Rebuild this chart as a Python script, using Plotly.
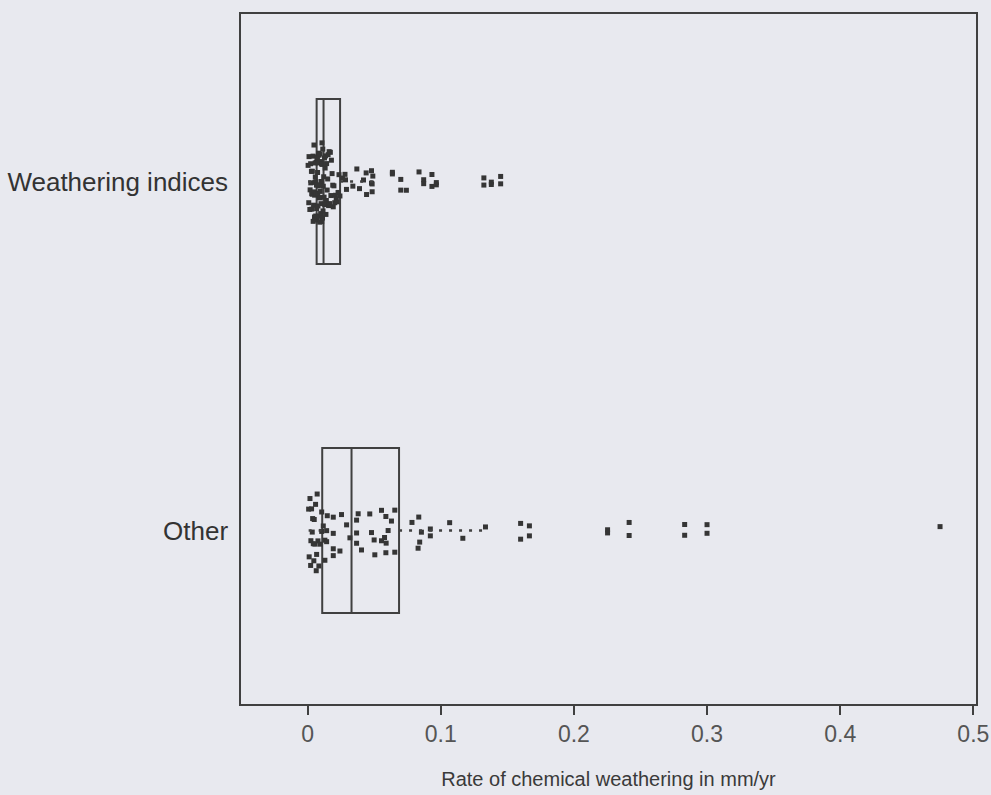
import plotly.graph_objects as go

# Categories (bottom to top)
categories = ["Other", "Weathering indices"]

# Individual rates of chemical weathering (mm/yr)
weathering_indices_rates = [
    0.0004, 0.0009, 0.0011, 0.0017, 0.0019, 0.0023, 0.0024, 0.0029, 0.0031, 0.0033,
    0.0036, 0.0037, 0.0041, 0.0042, 0.0045, 0.0048, 0.0049, 0.0052, 0.0053, 0.0055,
    0.0057, 0.0058, 0.0060, 0.0061, 0.0063, 0.0064, 0.0066, 0.0067, 0.0068,
    0.0069, 0.0071, 0.0072, 0.0074, 0.0075, 0.0077, 0.0078, 0.0079, 0.0081, 0.0083,
    0.0084, 0.0086, 0.0088, 0.0089, 0.0091, 0.0093, 0.0094, 0.0096, 0.0098, 0.0099,
    0.0101, 0.0103, 0.0105, 0.0106, 0.0108, 0.0110, 0.0112, 0.0114, 0.0116, 0.0118,
    0.0121, 0.0124, 0.0127, 0.0129, 0.0132, 0.0135, 0.0138, 0.0141, 0.0143, 0.0147,
    0.0151, 0.0154, 0.0158, 0.0162, 0.0166, 0.0171, 0.0175, 0.0179, 0.0184, 0.0189,
    0.0193, 0.0198, 0.0204, 0.0209, 0.0215, 0.0222, 0.0229, 0.0236, 0.0243,
    0.0262, 0.0281, 0.0285, 0.0292, 0.034, 0.037, 0.039, 0.042, 0.044, 0.0443,
    0.048, 0.048, 0.0485, 0.0485, 0.049, 0.0637, 0.0637, 0.070, 0.070, 0.0742,
    0.0837, 0.0872, 0.0872, 0.0934, 0.0934, 0.0967, 0.0967, 0.1324, 0.1324,
    0.138, 0.138, 0.145, 0.145,
]

other_rates = [
    0.0008, 0.0012, 0.0018, 0.0023, 0.0025, 0.003, 0.0035, 0.0038, 0.0043, 0.0047,
    0.005, 0.0055, 0.006, 0.0065, 0.0068, 0.0072, 0.0078, 0.0085, 0.0093,
    0.0106, 0.0106, 0.0118, 0.013, 0.013, 0.0143, 0.0143, 0.0148,
    0.0193, 0.0193, 0.0193, 0.0193, 0.0243, 0.0255, 0.0293,
    0.0318, 0.0368, 0.0368, 0.0368, 0.038, 0.0405,
    0.0467, 0.048, 0.050, 0.0505,
    0.0555, 0.0555, 0.0578, 0.0588, 0.0588, 0.059, 0.0605, 0.063, 0.0655, 0.0655,
    0.0784, 0.083, 0.0835, 0.0842, 0.0855, 0.0922, 0.0922,
    0.1067, 0.1166, 0.1336,
    0.160, 0.160, 0.1666, 0.1666, 0.2253, 0.2253, 0.2415, 0.2415,
    0.2832, 0.2832, 0.300, 0.300, 0.475,
]

# Box summary statistics per category (same order as categories)
q1_values = [0.011, 0.0068]
median_values = [0.033, 0.012]
q3_values = [0.0687, 0.0244]
lower_fence_values = [0.0008, 0.0004]
upper_fence_values = [0.1336, 0.049]

# Axis ticks
x_tick_values = [0, 0.1, 0.2, 0.3, 0.4, 0.5]
x_tick_labels = ["0", "0.1", "0.2", "0.3", "0.4", "0.5"]

page_bg = "#e8e9ef"
ink = "#404040"
box_width = 0.473

fig = go.Figure()

# Boxes (quartiles and median); whiskers are drawn separately as dotted lines
fig.add_trace(go.Box(
    y=categories,
    q1=q1_values,
    median=median_values,
    q3=q3_values,
    lowerfence=q1_values,
    upperfence=q3_values,
    orientation="h",
    width=box_width,
    whiskerwidth=0,
    boxpoints=False,
    fillcolor="rgba(0,0,0,0)",
    line=dict(color=ink, width=2),
    showlegend=False,
    hoverinfo="skip",
))

# Dotted whiskers
for cat, lo, q1, q3, hi in zip(categories, lower_fence_values, q1_values,
                               q3_values, upper_fence_values):
    for a, b in ((lo, q1), (q3, hi)):
        fig.add_trace(go.Scatter(
            x=[a, b], y=[cat, cat], mode="lines",
            line=dict(color=ink, width=2.5, dash="3px,7px"),
            showlegend=False, hoverinfo="skip",
        ))

# Jittered individual observations
for cat, vals in ((categories[1], weathering_indices_rates),
                  (categories[0], other_rates)):
    fig.add_trace(go.Box(
        x=vals,
        y=[cat] * len(vals),
        orientation="h",
        width=box_width,
        boxpoints="all",
        jitter=0.5,
        pointpos=0,
        fillcolor="rgba(0,0,0,0)",
        line=dict(color="rgba(0,0,0,0)", width=0),
        marker=dict(symbol="square", size=5, color="#353535",
                    line=dict(width=0)),
        showlegend=False,
    ))

fig.update_layout(
    width=991,
    height=795,
    margin=dict(l=241, r=15, t=14, b=91),
    paper_bgcolor=page_bg,
    plot_bgcolor=page_bg,
    boxmode="overlay",
    font=dict(family="Liberation Sans, Arial, sans-serif", color="#333333"),
    xaxis=dict(
        range=[-0.05, 0.502],
        tickvals=x_tick_values,
        ticktext=x_tick_labels,
        ticks="outside",
        ticklen=9,
        tickwidth=1.5,
        tickcolor=ink,
        tickfont=dict(size=23, color="#555555"),
        showline=True,
        linecolor=ink,
        linewidth=1.5,
        mirror=True,
        showgrid=False,
        zeroline=False,
        automargin=False,
        title=dict(
            text="Rate of chemical weathering in mm/yr",
            font=dict(size=20, color="#3a3a3a"),
            standoff=26,
        ),
    ),
    yaxis=dict(
        type="category",
        categoryorder="array",
        categoryarray=categories,
        range=[-0.497, 1.48],
        ticks="",
        ticklabelstandoff=6,
        tickfont=dict(size=26, color="#333333"),
        showline=True,
        linecolor=ink,
        linewidth=1.5,
        mirror=True,
        showgrid=False,
        zeroline=False,
        automargin=False,
    ),
)

fig.write_html("out.html")
